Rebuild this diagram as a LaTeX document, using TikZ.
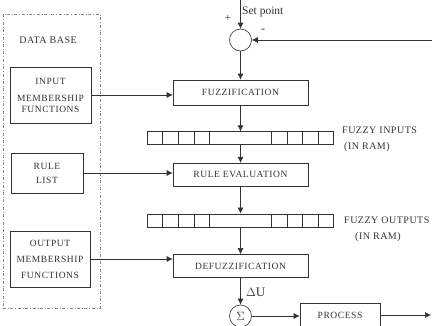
\documentclass[tikz,border=0pt]{standalone}
\usepackage{fontspec}
\setmainfont{Liberation Serif}
\usetikzlibrary{arrows.meta, positioning, calc}
\definecolor{ink}{HTML}{333333}
\definecolor{dbline}{HTML}{8A8A8A}
\tikzset{
  box/.style={
    draw=ink,
    line width=0.6pt,
    align=center,
    inner sep=1pt,
    text=ink,
    font=\fontsize{9.5}{11}\selectfont\addfontfeature{LetterSpace=6}
  },
  stagebox/.style={
    box,
    minimum width=135pt,
    minimum height=23pt
  },
  regbox/.style={
    draw=ink,
    line width=0.6pt,
    minimum width=186pt,
    minimum height=13pt,
    inner sep=0pt
  },
  sumnode/.style={
    draw=ink,
    line width=0.6pt,
    circle,
    minimum size=22pt,
    inner sep=0pt,
    text=ink
  },
  label/.style={
    text=ink,
    inner sep=0pt,
    font=\fontsize{10}{11}\selectfont\addfontfeature{LetterSpace=5}
  },
  arrow/.style={
    -{Latex[length=6pt,width=6pt]},
    line width=0.6pt,
    draw=ink
  }
}

\begin{document}
\begin{tikzpicture}[x=1pt, y=-1pt]

\clip (0,0) rectangle (432,325);
\fill[white] (0,0) rectangle (432,325);

% data base side
\node[draw=dbline, dash dot, line width=0.5pt, minimum width=97pt, minimum height=294pt] (dbframe) at (51.5,161) {};
\node[label] (dbtitle) at (48,40) {DATA BASE};

\node[box, minimum width=81pt, minimum height=56pt] (inmf) at (50.5,95) {
  INPUT\\[6pt]
  MEMBERSHIP\\
  FUNCTIONS
};

\node[box, minimum width=72pt, minimum height=40pt] (rulelist) at (47,173) {
  RULE\\[3pt]
  LIST
};

\node[box, minimum width=80pt, minimum height=56pt] (outmf) at (50,259) {
  OUTPUT\\[5pt]
  MEMBERSHIP\\[5pt]
  FUNCTIONS
};

% controller column
\node[sumnode] (sumin) at (240.5,40) {};
\coordinate (setp) at (240.5,0);
\coordinate (feedback) at (432,40);

\node[stagebox, minimum height=25pt] (fuzz) at (240.5,92.5) {FUZZIFICATION};

\node[regbox, below=26pt of fuzz] (fin) {};

\node[stagebox, below=18pt of fin] (rule) {RULE EVALUATION};

\node[regbox, below=27pt of rule] (fout) {};

\node[stagebox, below=27pt of fout] (defuzz) {DEFUZZIFICATION};

\node[sumnode, below=27pt of defuzz, font=\large] (sigma) {$\Sigma$};

\node[box, minimum width=80pt, minimum height=24pt] (process) at (340,315) {PROCESS};
\coordinate (out) at (431,315);

% register cells
\foreach \k in {1,2,3,4,8,9,10,11} {
  \draw[ink, line width=0.6pt] ($(fin.north west)!\k/12!(fin.north east)$) -- ($(fin.south west)!\k/12!(fin.south east)$);
  \draw[ink, line width=0.6pt] ($(fout.north west)!\k/12!(fout.north east)$) -- ($(fout.south west)!\k/12!(fout.south east)$);
}

% texts
\node[label, anchor=west, font=\fontsize{11.5}{13}\selectfont] (sptext) at (242,12) {Set point};
\node[label, font=\fontsize{11}{12}\selectfont] (plus) at (228,18) {+};
\node[label, font=\fontsize{12}{13}\selectfont] (minus) at (263,31) {-};
\node[label, anchor=west] (fintext) at (342,130) {FUZZY INPUTS};
\node[label, anchor=west] (finram) at (344,147) {(IN RAM)};
\node[label, anchor=west] (fouttext) at (344,220) {FUZZY OUTPUTS};
\node[label, anchor=west] (foutram) at (355,237) {(IN RAM)};
\node[label, anchor=west, font=\fontsize{13}{14}\selectfont] (du) at (246,292) {$\Delta$U};

% connections
\draw[arrow] (setp) -- (sumin);
\draw[arrow] (feedback) -- (sumin);
\draw[arrow] (sumin) -- (fuzz);
\draw[arrow] (fuzz) -- (fin);
\draw[arrow] (fin) -- (rule);
\draw[arrow] (rule) -- (fout);
\draw[arrow] (fout) -- (defuzz);
\draw[arrow] (defuzz) -- (sigma);
\draw[arrow] (sigma) -- (sigma -| process.west);
\draw[arrow] (process) -- (out);
\draw[arrow] (inmf) -- (inmf -| fuzz.west);
\draw[arrow] (rulelist) -- (rulelist -| rule.west);
\draw[arrow] (outmf) -- (outmf -| defuzz.west);

\end{tikzpicture}
\end{document}
